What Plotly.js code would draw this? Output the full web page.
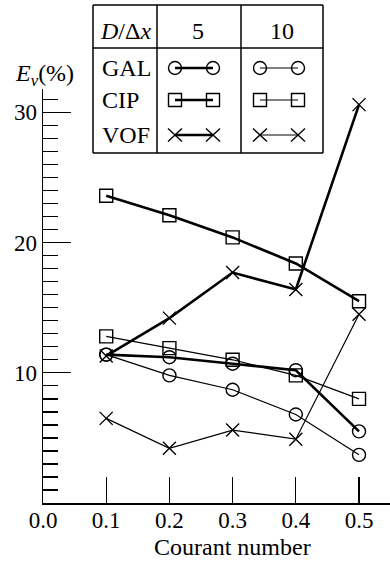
<!DOCTYPE html>
<html>
<head>
<meta charset="utf-8">
<script src="https://cdn.plot.ly/plotly-3.0.1.min.js"></script>
<style>
  html, body { margin: 0; padding: 0; background: #fff; }
  #chart { width: 390px; height: 561px; }
</style>
</head>
<body>
<div id="chart"></div>
<script>
// ---- data ----
var courant = [0.1, 0.2, 0.3, 0.4, 0.5];
var gal5  = [11.4, 11.2, 10.7, 10.2, 5.5];
var gal10 = [11.4, 9.8, 8.7, 6.8, 3.7];
var cip5  = [23.6, 22.1, 20.4, 18.4, 15.5];
var cip10 = [12.8, 11.9, 11.0, 9.8, 8.0];
var vof5  = [11.3, 14.2, 17.7, 16.4, 30.6];
var vof10 = [6.5, 4.2, 5.6, 4.9, 14.5];
var xTickVals = [0, 0.1, 0.2, 0.3, 0.4, 0.5];
var xTickText = ['0.0', '0.1', '0.2', '0.3', '0.4', '0.5'];
var yTickVals = [10, 20, 30];
var yTickText = ['10', '20', '30'];
var methods = ['GAL', 'CIP', 'VOF'];
var resolutions = ['5', '10'];

var FONT = 'Liberation Serif, Times New Roman, serif';
var THICK = 2.6, THIN = 1.2;

function tr(y, sym, w) {
  return {
    x: courant, y: y, type: 'scatter', mode: 'lines+markers',
    line: {color: '#000', width: w},
    marker: {symbol: sym, size: 13, color: '#000', line: {color: '#000', width: 1.4}},
    cliponaxis: false, showlegend: false, hoverinfo: 'skip'
  };
}
var traces = [
  tr(gal10, 'circle-open', THIN),
  tr(cip10, 'square-open', THIN),
  tr(vof10, 'x-thin-open', THIN),
  tr(gal5, 'circle-open', THICK),
  tr(cip5, 'square-open', THICK),
  tr(vof5, 'x-thin-open', THICK)
];

// ---- layout geometry (pixels) ----
var W = 390, H = 561, L = 43, R = 0, T = 89, B = 58;
var pw = W - L - R, ph = H - T - B;
function px(x) { return (x - L) / pw; }
function py(y) { return (H - B - y) / ph; }

var shapes = [];
var ann = [];
function line(x0, y0, x1, y1, w) {
  shapes.push({type: 'line', xref: 'paper', yref: 'paper',
    x0: px(x0), y0: py(y0), x1: px(x1), y1: py(y1),
    line: {color: '#000', width: w}});
}
// legend table
line(93, 5, 323, 5, 1.5);
line(93, 153, 323, 153, 1.5);
line(93, 5, 93, 153, 1.5);
line(323, 5, 323, 153, 1.5);
line(157, 5, 157, 153, 1.5);
line(241, 5, 241, 153, 1.5);
line(93, 48, 323, 48, 1.5);

function txt(t, x, y, anchor, size) {
  ann.push({text: t, xref: 'paper', yref: 'paper', x: px(x), y: py(y),
    xanchor: anchor || 'center', yanchor: 'middle', showarrow: false,
    font: {family: FONT, size: size || 24, color: '#000'}});
}
txt('<i>D</i>/Δ<i>x</i>', 125, 31);
txt(resolutions[0], 198, 31);
txt(resolutions[1], 282, 31);
var rowY = [68, 100, 135];
methods.forEach(function (m, i) { txt(m, 100, rowY[i], 'left'); });

function marker(kind, cx, cy) {
  var a = {xref: 'paper', yref: 'paper', xsizemode: 'pixel', ysizemode: 'pixel',
    xanchor: px(cx), yanchor: py(cy), line: {color: '#000', width: 1.4}};
  if (kind === 'circle' || kind === 'rect') {
    shapes.push(Object.assign({type: kind, x0: -6.5, x1: 6.5, y0: -6.5, y1: 6.5,
      fillcolor: 'rgba(0,0,0,0)'}, a));
  } else {
    shapes.push(Object.assign({type: 'line', x0: -7, x1: 7, y0: -6.5, y1: 6.5}, a));
    shapes.push(Object.assign({type: 'line', x0: -7, x1: 7, y0: 6.5, y1: -6.5}, a));
  }
}
var kinds = ['circle', 'rect', 'x'];
var cols = [[175, 213, THICK], [260, 298, THIN]];
cols.forEach(function (c) {
  kinds.forEach(function (k, i) {
    line(c[0], rowY[i], c[1], rowY[i], c[2]);
    marker(k, c[0], rowY[i]);
    marker(k, c[1], rowY[i]);
  });
});

// axis titles
txt('<i>E</i><sub><i>ν</i></sub>(%)', 44, 75, 'center', 24);
txt('Courant number', 232, 547, 'center', 24);

var layout = {
  width: W, height: H,
  margin: {l: L, r: R, t: T, b: B, pad: 0},
  paper_bgcolor: '#fff', plot_bgcolor: '#fff',
  showlegend: false,
  font: {family: FONT, size: 23, color: '#000'},
  xaxis: {
    range: [0, 0.549], showgrid: false, zeroline: false,
    showline: true, linecolor: '#000', linewidth: 1.5,
    ticks: 'inside', ticklen: 26, tickwidth: 1.3, tickcolor: '#000',
    tickmode: 'array', tickvals: xTickVals, ticktext: xTickText,
    ticklabelstandoff: -4,
    tickfont: {family: FONT, size: 23, color: '#000'}
  },
  yaxis: {
    range: [0, 31.8], showgrid: false, zeroline: false,
    showline: true, linecolor: '#000', linewidth: 1.5,
    ticks: 'inside', ticklen: 28, tickwidth: 1.3, tickcolor: '#000',
    tickmode: 'array', tickvals: yTickVals, ticktext: yTickText,
    tickfont: {family: FONT, size: 23, color: '#000'},
    minor: {ticks: 'inside', ticklen: 15, tickwidth: 1.3, tickcolor: '#000',
      tickmode: 'linear', tick0: 0, dtick: 1, showgrid: false}
  },
  shapes: shapes,
  annotations: ann
};

Plotly.newPlot('chart', traces, layout, {staticPlot: true, displayModeBar: false});
</script>
</body>
</html>
